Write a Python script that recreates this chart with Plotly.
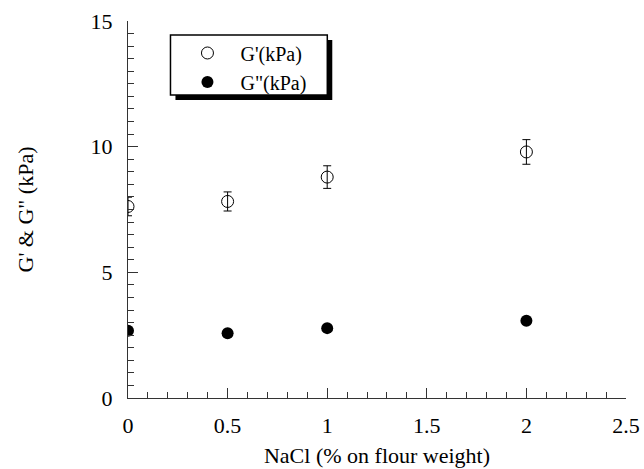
import plotly.graph_objects as go

nacl = [0, 0.5, 1, 2]
g_prime = [7.62, 7.82, 8.79, 9.79]
g_prime_err = [0.37, 0.38, 0.45, 0.49]
g_dprime = [2.68, 2.58, 2.78, 3.07]

FONT = "Liberation Serif, serif"
FS = 22

fig = go.Figure()
fig.add_trace(go.Scatter(
    x=nacl, y=g_prime, mode="markers", name="G'(kPa)",
    marker=dict(symbol="circle-open", size=12, color="black", line=dict(width=1)),
    error_y=dict(type="data", array=g_prime_err, visible=True, color="black", thickness=1, width=4),
))
fig.add_trace(go.Scatter(
    x=nacl, y=g_dprime, mode="markers", name='G"(kPa)',
    marker=dict(symbol="circle", size=12, color="black"),
))

# legend box with drop shadow
fig.add_shape(type="rect", xref="paper", yref="paper",
              x0=0.0953, x1=0.4102, y0=0.7905, y1=0.9496,
              fillcolor="black", line=dict(width=0), layer="above")
fig.add_shape(type="rect", xref="paper", yref="paper",
              x0=0.0853, x1=0.4002, y0=0.8037, y1=0.9629,
              fillcolor="white", line=dict(width=1.5, color="black"), layer="above")

fig.update_layout(
    width=644, height=469,
    margin=dict(l=127.5, r=18, t=21, b=71),
    paper_bgcolor="white", plot_bgcolor="white",
    font=dict(family=FONT, size=FS, color="black"),
    showlegend=True,
    legend=dict(x=0.0933, y=0.8767, xanchor="left", yanchor="middle",
                bgcolor="rgba(0,0,0,0)", borderwidth=0,
                font=dict(family=FONT, size=20), itemwidth=56,
                tracegroupgap=0),
    xaxis=dict(range=[0, 2.5], tickvals=[0, 0.5, 1, 1.5, 2, 2.5],
               ticktext=["0", "0.5", "1", "1.5", "2", "2.5"],
               ticks="inside", ticklen=10, tickcolor="#333", tickwidth=1,
               minor=dict(dtick=0.1, ticks="inside", ticklen=6, tickcolor="#333"),
               showline=True, linecolor="#333", linewidth=1, mirror=False,
               showgrid=False, zeroline=False, ticklabelstandoff=8,
               automargin=False,
               title=dict(text="NaCl (% on flour weight)", font=dict(family=FONT, size=FS), standoff=10),
               tickfont=dict(family=FONT, size=FS)),
    yaxis=dict(range=[0, 15], tickvals=[0, 5, 10, 15],
               ticks="inside", ticklen=10, tickcolor="#333", tickwidth=1,
               minor=dict(dtick=0.5, ticks="inside", ticklen=6, tickcolor="#333"),
               showline=True, linecolor="#333", linewidth=1, mirror=False,
               showgrid=False, zeroline=False, ticklabelstandoff=10,
               automargin=False,
               title=dict(text='G\' & G" (kPa)', font=dict(family=FONT, size=FS), standoff=50),
               tickfont=dict(family=FONT, size=FS)),
)

fig.write_html("out.html", config={"displayModeBar": False},
               post_script="document.body.style.margin='0';")
